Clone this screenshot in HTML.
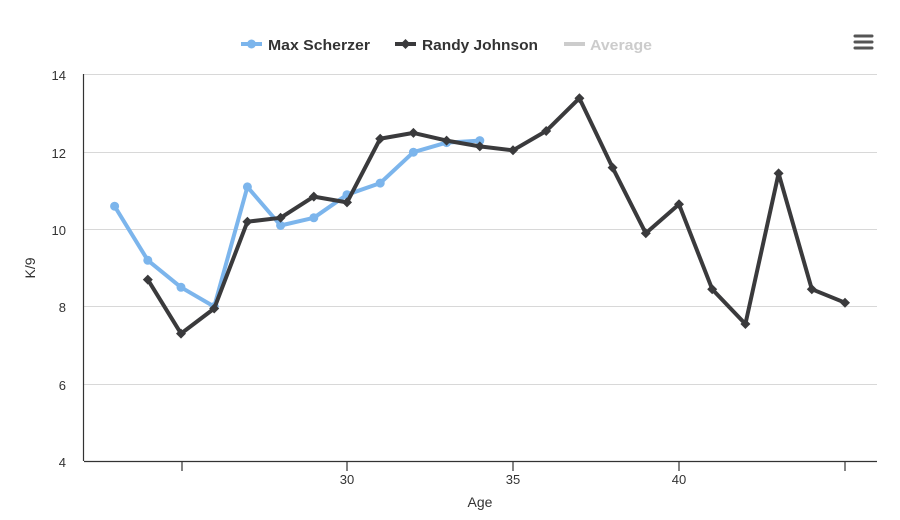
<!DOCTYPE html>
<html><head><meta charset="utf-8"><style>
body{margin:0;background:#fff;}
svg{display:block;font-family:"Liberation Sans",sans-serif;}
</style></head><body>
<svg width="900" height="520" viewBox="0 0 900 520" xmlns="http://www.w3.org/2000/svg">
<rect width="900" height="520" fill="#fff"/>
<g stroke="#d8d8d8" stroke-width="1">
<line x1="84" y1="74.5" x2="877" y2="74.5"/>
<line x1="84" y1="152.5" x2="877" y2="152.5"/>
<line x1="84" y1="229.5" x2="877" y2="229.5"/>
<line x1="84" y1="306.5" x2="877" y2="306.5"/>
<line x1="84" y1="384.5" x2="877" y2="384.5"/>
</g>
<g stroke="#333" stroke-width="1.2">
<line x1="83.5" y1="74" x2="83.5" y2="461"/>
<line x1="84" y1="461.5" x2="877" y2="461.5"/>
<line x1="182" y1="461" x2="182" y2="471"/>
<line x1="347" y1="461" x2="347" y2="471"/>
<line x1="513" y1="461" x2="513" y2="471"/>
<line x1="679" y1="461" x2="679" y2="471"/>
<line x1="845" y1="461" x2="845" y2="471"/>
</g>
<g font-size="13" fill="#333" text-anchor="end">
<text x="66" y="80">14</text>
<text x="66" y="158">12</text>
<text x="66" y="235">10</text>
<text x="66" y="312">8</text>
<text x="66" y="390">6</text>
<text x="66" y="467">4</text>
</g>
<g font-size="13" fill="#333" text-anchor="middle">
<text x="347" y="484">30</text>
<text x="513" y="484">35</text>
<text x="679" y="484">40</text>
<text x="480" y="507" font-size="14">Age</text>
</g>
<text x="0" y="0" font-size="14" fill="#333" text-anchor="middle" transform="translate(35,268) rotate(-90)">K/9</text>
<polyline fill="none" stroke="#7cb5ec" stroke-width="4" stroke-linejoin="round" points="114.6,206.2 147.8,260.3 181,287.3 214.2,306.6 247.4,186.9 280.6,225.5 313.8,217.8 347,194.7 380.2,183.1 413.4,152.2 446.6,142.6 479.8,140.6"/>
<g fill="#7cb5ec">
<circle cx="114.6" cy="206.2" r="4.5"/><circle cx="147.8" cy="260.3" r="4.5"/><circle cx="181" cy="287.3" r="4.5"/><circle cx="214.2" cy="306.6" r="4.5"/><circle cx="247.4" cy="186.9" r="4.5"/><circle cx="280.6" cy="225.5" r="4.5"/><circle cx="313.8" cy="217.8" r="4.5"/><circle cx="347" cy="194.7" r="4.5"/><circle cx="380.2" cy="183.1" r="4.5"/><circle cx="413.4" cy="152.2" r="4.5"/><circle cx="446.6" cy="142.6" r="4.5"/><circle cx="479.8" cy="140.6" r="4.5"/>
</g>
<polyline fill="none" stroke="#3a3a3c" stroke-width="4" stroke-linejoin="round" points="147.8,279.6 181,333.6 214.2,308.5 247.4,221.7 280.6,217.8 313.8,196.6 347,202.4 380.2,138.7 413.4,132.9 446.6,140.6 479.8,146.4 513,150.3 546.2,131 579.4,98.2 612.6,167.6 645.8,233.3 679,204.3 712.2,289.2 745.4,324 778.6,173.4 811.8,289.2 845,302.7"/>
<g fill="#3a3a3c">
<path d="M147.8,274.6 l5,5 -5,5 -5,-5z"/><path d="M181,328.6 l5,5 -5,5 -5,-5z"/><path d="M214.2,303.5 l5,5 -5,5 -5,-5z"/><path d="M247.4,216.7 l5,5 -5,5 -5,-5z"/><path d="M280.6,212.8 l5,5 -5,5 -5,-5z"/><path d="M313.8,191.6 l5,5 -5,5 -5,-5z"/><path d="M347,197.4 l5,5 -5,5 -5,-5z"/><path d="M380.2,133.7 l5,5 -5,5 -5,-5z"/><path d="M413.4,127.9 l5,5 -5,5 -5,-5z"/><path d="M446.6,135.6 l5,5 -5,5 -5,-5z"/><path d="M479.8,141.4 l5,5 -5,5 -5,-5z"/><path d="M513,145.3 l5,5 -5,5 -5,-5z"/><path d="M546.2,126 l5,5 -5,5 -5,-5z"/><path d="M579.4,93.2 l5,5 -5,5 -5,-5z"/><path d="M612.6,162.6 l5,5 -5,5 -5,-5z"/><path d="M645.8,228.3 l5,5 -5,5 -5,-5z"/><path d="M679,199.3 l5,5 -5,5 -5,-5z"/><path d="M712.2,284.2 l5,5 -5,5 -5,-5z"/><path d="M745.4,319 l5,5 -5,5 -5,-5z"/><path d="M778.6,168.4 l5,5 -5,5 -5,-5z"/><path d="M811.8,284.2 l5,5 -5,5 -5,-5z"/><path d="M845,297.7 l5,5 -5,5 -5,-5z"/>
</g>
<!-- legend -->
<line x1="241" y1="44" x2="262" y2="44" stroke="#7cb5ec" stroke-width="4"/>
<circle cx="251.5" cy="44" r="4.5" fill="#7cb5ec"/>
<text x="268" y="50" font-size="15" font-weight="bold" fill="#333" textLength="102" lengthAdjust="spacingAndGlyphs">Max Scherzer</text>
<line x1="395" y1="44" x2="416" y2="44" stroke="#3a3a3c" stroke-width="4"/>
<path d="M405.5,39 l5,5 -5,5 -5,-5z" fill="#3a3a3c"/>
<text x="422" y="50" font-size="15" font-weight="bold" fill="#333" textLength="116" lengthAdjust="spacingAndGlyphs">Randy Johnson</text>
<line x1="564" y1="44" x2="585" y2="44" stroke="#ccc" stroke-width="4"/>
<text x="590" y="50" font-size="15" font-weight="bold" fill="#ccc" textLength="62" lengthAdjust="spacingAndGlyphs">Average</text>
<g stroke="#555" stroke-width="3" stroke-linecap="round">
<line x1="855" y1="36" x2="872" y2="36"/>
<line x1="855" y1="42" x2="872" y2="42"/>
<line x1="855" y1="48" x2="872" y2="48"/>
</g>
</svg>
</body></html>
